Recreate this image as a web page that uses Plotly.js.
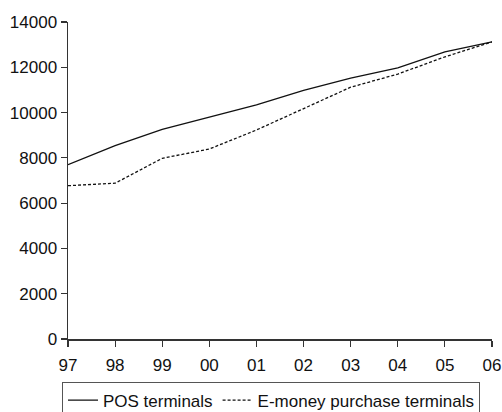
<!DOCTYPE html>
<html>
<head>
<meta charset="utf-8">
<script src="https://cdn.plot.ly/plotly-3.0.1.min.js"></script>
<style>html,body{margin:0;padding:0;background:#fff;}#chart{width:502px;height:412px;}</style>
</head>
<body>
<div id="chart"></div>
<script>
const years = ["97","98","99","00","01","02","03","04","05","06"];
const posTerminals = [7700, 8540, 9260, 9800, 10340, 10980, 11520, 11970, 12680, 13120];
const emoneyTerminals = [6770, 6880, 7980, 8390, 9230, 10180, 11120, 11700, 12460, 13120];
const yTicks = [0, 2000, 4000, 6000, 8000, 10000, 12000, 14000];
const yTickText = ["0", "2000", "4000", "6000", "8000", "10000", "12000", "14000"];

const traces = [
  {x: years, y: posTerminals, name: "POS terminals", type: "scatter", mode: "lines",
   line: {color: "#111", width: 1.3}},
  {x: years, y: emoneyTerminals, name: "E-money purchase terminals", type: "scatter", mode: "lines",
   line: {color: "#111", width: 1.3, dash: "3px,2px"}}
];
const layout = {
  width: 502, height: 412,
  margin: {l: 68, r: 10, t: 22, b: 73},
  paper_bgcolor: "#fff", plot_bgcolor: "#fff",
  font: {family: "Liberation Sans, Arial, sans-serif", size: 17, color: "#111"},
  showlegend: true,
  xaxis: {type: "category", range: [0, 9], showgrid: false, zeroline: false,
    showline: true, linecolor: "#333", linewidth: 1.5,
    ticks: "outside", ticklen: 6, tickcolor: "#333", tickwidth: 1.2,
    ticklabelstandoff: 4, tickfont: {size: 17}},
  yaxis: {range: [0, 14000], tickvals: yTicks, ticktext: yTickText, showgrid: false, zeroline: false,
    showline: true, linecolor: "#333", linewidth: 1.5,
    ticks: "outside", ticklen: 6, tickcolor: "#333", tickwidth: 1.2, tickfont: {size: 17}},
  legend: {orientation: "h", xref: "container", yref: "container",
    x: 0.1235, xanchor: "left", y: 0.074, yanchor: "top",
    bordercolor: "#555", borderwidth: 1, bgcolor: "#fff", itemwidth: 30,
    font: {size: 17}, tracegroupgap: 0}
};
Plotly.newPlot("chart", traces, layout, {displayModeBar: false, staticPlot: true});
</script>
</body>
</html>
